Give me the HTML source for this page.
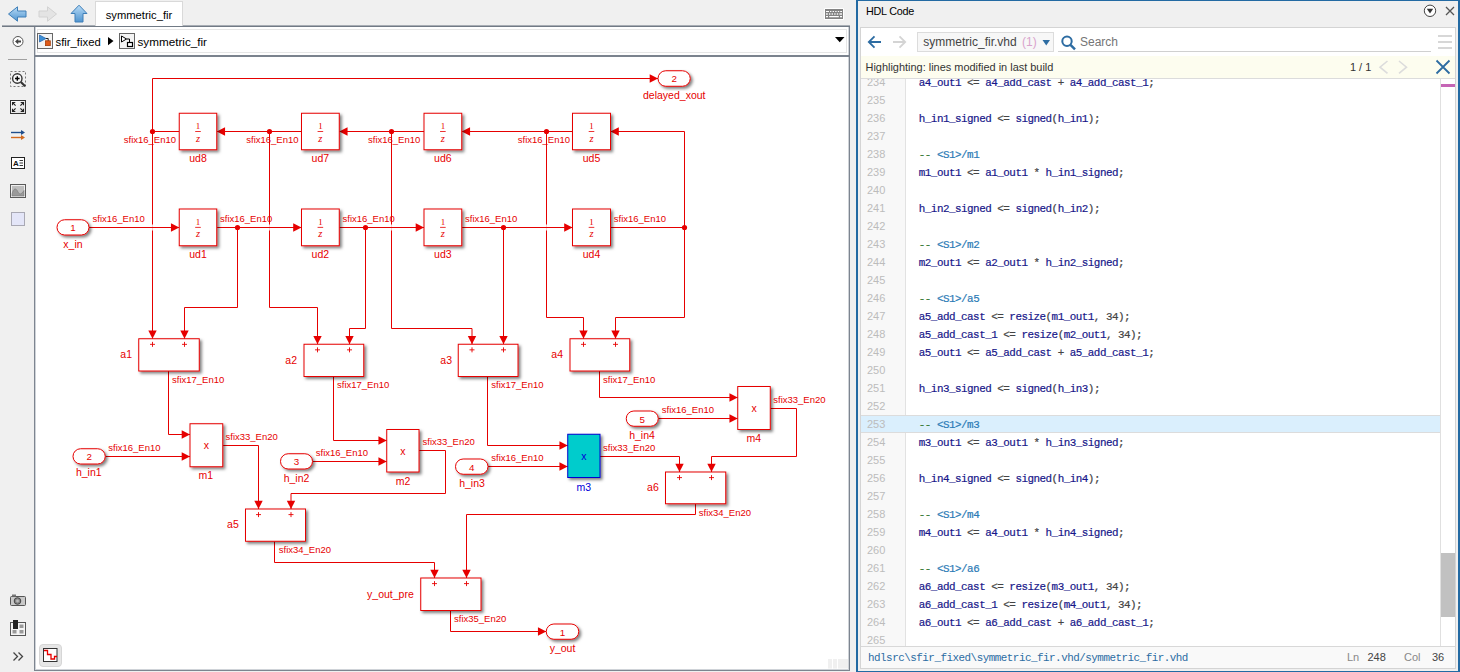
<!DOCTYPE html>
<html><head><meta charset="utf-8"><title>symmetric_fir</title>
<style>
*{box-sizing:border-box;margin:0;padding:0}
html,body{width:1460px;height:672px;overflow:hidden;background:#f0f0f0;font-family:"Liberation Sans",sans-serif}
.abs{position:absolute}
#left{position:absolute;left:0;top:0;width:856px;height:672px;background:#f0f0f0}
#topline{position:absolute;left:2px;top:25px;width:848px;height:2px;background:linear-gradient(#a8adb4 0,#a8adb4 50%,#717a85 50%)}
#tab{position:absolute;left:95px;top:1px;width:88px;height:25px;background:#fff;border:1px solid #d9d9d9;border-bottom:none;font-size:11.2px;color:#000;text-align:center;line-height:27px}
#side{position:absolute;left:0;top:28px;width:34px;height:644px;background:#f0f0f0}
#crumb{position:absolute;left:34px;top:27px;width:816px;height:30px;background:#fff;border-left:1px solid #7d8590;border-right:1px solid #7d8590;border-bottom:2px solid #7b838e;box-shadow:inset 1px 0 0 #cfd3d8,inset -1px 0 0 #cfd3d8}
#crumb .in{position:absolute;left:2px;top:2px;right:2px;bottom:2px;border:1px solid #e6e6e6}
#crumb .t{position:absolute;top:8px;font-size:11.7px;color:#000;white-space:nowrap;line-height:14px}
#canvas{position:absolute;left:34px;top:57px;width:816px;height:614px;background:#fff;border-left:1px solid #7d8590;border-right:1px solid #7d8590;border-bottom:1px solid #7d8590;box-shadow:inset 1px 0 0 #cfd3d8,inset -1px 0 0 #cfd3d8,inset 0 -1px 0 #cfd3d8}
#dia{position:absolute;left:0;top:0}
#dia text{font-family:"Liberation Sans",sans-serif;fill:#e60000}
#dia text.bl{fill:#0000d8}
#dia text.sf{font-family:"Liberation Serif",serif}
#right{position:absolute;left:856px;top:0;width:604px;height:672px;background:#f0f0f0;border:2px solid #236aa3;border-top-width:1px;border-bottom-width:1px}
#rt{position:absolute;left:8px;top:3px;font-size:10.8px;letter-spacing:-0.25px;color:#000;line-height:14px}
#inner{position:absolute;left:2px;top:26px;width:596px;height:642px;background:#fff;border:1px solid #d4d4d4}
#tool{position:absolute;left:0;top:0;width:594px;height:27px;background:#fff}
#dd{position:absolute;left:56px;top:4px;width:137px;height:20px;background:#f7f7f7;border:1px solid #dcdcdc;font-size:12px;color:#444;line-height:19px;padding-left:5.3px;white-space:nowrap}
#dd .c{color:#d9a3cc;margin-left:2px}
#srch{position:absolute;left:219px;top:7px;font-size:12px;color:#757575;line-height:14px}
#sline{position:absolute;left:197px;top:23px;width:373px;height:1px;background:#d0d0d0}
#ybar{position:absolute;left:0;top:28px;width:594px;height:23px;background:#fdfdef;border-bottom:1px solid #dcdcdc;font-size:10.95px;color:#333;line-height:22px}
#code{position:absolute;left:0;top:51px;width:594px;height:567px;overflow:hidden;background:#fff}
#codein{position:absolute;left:0;top:-6px;width:580px}
#gut{position:absolute;left:0;top:0;width:45px;height:567px;background:#f8f8f8;border-right:1px solid #e2e2e2}
.ln{position:relative;height:18px;line-height:18px;white-space:pre;font-family:"Liberation Mono",monospace;font-size:10.9px;letter-spacing:-0.5px;color:#444}
.ln .no{position:absolute;left:6px;top:0px;font-family:"Liberation Sans",sans-serif;font-size:11px;letter-spacing:0;color:#bcbcbc}
.ln .tx{position:absolute;left:57.8px;top:0.5px;-webkit-text-stroke:0.2px}
.hlrow{background:#daeffd;box-shadow:0 -1px 0 #dcdcdc inset,0 1px 0 #dcdcdc inset}
.id{color:#17178a}.cm{color:#3a7d3a}.lk{color:#2b7bb6}
#strack{position:absolute;left:579px;top:0;width:15px;height:567px;background:#fff;border-left:1px solid #e0e0e0}
#thumb{position:absolute;left:0;top:474px;width:14px;height:64px;background:#c1c1c1}
#pink{position:absolute;left:0;top:5px;width:14px;height:3px;background:#c565b5}
#stat{position:absolute;left:0;top:618px;width:594px;height:22px;background:#f9f9f9;border-top:1px solid #d8d8d8;font-size:11px;line-height:20px;color:#888}
#stat .p{position:absolute;left:7px;top:0.6px;font-family:"Liberation Mono",monospace;font-size:10.9px;letter-spacing:-0.5px;color:#2b6ca3;white-space:pre}
#stat span.a{position:absolute;top:0}
</style></head><body>
<div id="left">
  <div id="topline"></div>
  <div id="tab">symmetric_fir</div>
  <!-- nav arrows -->
  <svg class="abs" style="left:0;top:0" width="95" height="26" viewBox="0 0 95 26">
    <defs>
      <linearGradient id="gb" x1="0" y1="0" x2="0" y2="1"><stop offset="0" stop-color="#b9dcf7"/><stop offset="1" stop-color="#4f94cf"/></linearGradient>
    </defs>
    <path d="M8.5,14 L17.5,6.8 L17.5,11 L26,11 L26,17 L17.5,17 L17.5,21.2 Z" fill="url(#gb)" stroke="#3f7fb8" stroke-width="1"/>
    <path d="M56.5,14 L47.5,6.8 L47.5,11 L39,11 L39,17 L47.5,17 L47.5,21.2 Z" fill="#e4e4e4" stroke="#d2d2d2" stroke-width="1"/>
    <path d="M79,5.2 L87,13.5 L83,13.5 L83,22 L75,22 L75,13.5 L71,13.5 Z" fill="url(#gb)" stroke="#3f7fb8" stroke-width="1"/>
  </svg>
  <!-- keyboard icon -->
  <svg class="abs" style="left:823px;top:7px" width="22" height="14" viewBox="823 7 22 14">
    <rect x="824" y="8" width="20" height="12" rx="1.2" fill="#fff"/>
    <rect x="825" y="9" width="18" height="10" fill="#848484"/>
    <path d="M826,11.5H829M830,11.5H831.4M832.6,11.5H834M835.2,11.5H836.6M837.8,11.5H839.2M840.2,11.5H842" stroke="#fff" stroke-width="1"/>
    <path d="M826,14H827.8M829,14H830.4M831.6,14H833M834.2,14H835.6M836.8,14H838.2M839.4,14H842" stroke="#f4f4f4" stroke-width="1.5"/>
    <path d="M826,16.6H828M829.2,16.6H838.8M840,16.6H842" stroke="#fff" stroke-width="1.1"/>
  </svg>
  <div id="side">
    <svg class="abs" style="left:0;top:0" width="34" height="644" viewBox="0 28 34 644">
      <!-- back circle -->
      <circle cx="18" cy="41.5" r="5" fill="#fff" stroke="#555" stroke-width="1"/>
      <path d="M15,41.5 L18.2,38.8 L18.2,40.6 L21,40.6 L21,42.4 L18.2,42.4 L18.2,44.2 Z" fill="#444"/>
      <path d="M8,59.5H27" stroke="#a0a0a0" stroke-width="1"/>
      <!-- zoom -->
      <rect x="10.5" y="71.5" width="15" height="15" fill="none" stroke="#777" stroke-width="1" stroke-dasharray="2,2"/>
      <circle cx="17.3" cy="78.5" r="4.7" fill="#f6f6f6" stroke="#333" stroke-width="1.4"/>
      <path d="M15,78.5H19.6M17.3,76.2V80.8" stroke="#000" stroke-width="1.4"/>
      <path d="M20.8,82L25.2,86.2" stroke="#333" stroke-width="2.1"/>
      <!-- fit -->
      <defs><linearGradient id="gf" x1="0" y1="0" x2="1" y2="1"><stop offset="0" stop-color="#fff"/><stop offset="1" stop-color="#dcdcdc"/></linearGradient></defs>
      <rect x="10.5" y="100.5" width="15" height="13" fill="url(#gf)" stroke="#333" stroke-width="1"/>
      <path d="M12.5,105.3V102.5H15.3M12.5,102.5L15.6,105.6 M23.5,105.3V102.5H20.7M23.5,102.5L20.4,105.6 M12.5,108.7V111.5H15.3M12.5,111.5L15.6,108.4 M23.5,108.7V111.5H20.7M23.5,111.5L20.4,108.4" stroke="#222" stroke-width="1.1" fill="none"/>
      <!-- arrows -->
      <path d="M11,132.5H22" stroke="#1f4e8c" stroke-width="1.4"/><path d="M25,132.5L21,130V135Z" fill="#1f4e8c"/>
      <path d="M11,137.5H22" stroke="#d2691e" stroke-width="1.4"/><path d="M25,137.5L21,135V140Z" fill="#d2691e"/>
      <!-- A= -->
      <rect x="11.5" y="157.5" width="13" height="11" fill="#fff" stroke="#222" stroke-width="1"/>
      <text x="13" y="166.3" font-size="8" font-weight="bold" font-family="Liberation Sans, sans-serif" fill="#111">A</text>
      <path d="M19.5,160.5H23M19.5,163H23M19.5,165.5H23" stroke="#222" stroke-width="0.9"/>
      <!-- image -->
      <rect x="10.5" y="184.5" width="15" height="13" fill="#efefef" stroke="#5a5a5a" stroke-width="1"/>
      <rect x="12" y="186" width="12" height="10" fill="#bdbdbd"/>
      <path d="M12,194 C13.5,188 16,187.5 18,192 C19.3,195 21.5,194.5 24,190.5 V196 H12Z" fill="#9a9a9a" stroke="#777" stroke-width="0.6"/>
      <!-- square -->
      <rect x="11.5" y="212.5" width="13" height="13" fill="#e4e6f8" stroke="#a9a9b4" stroke-width="1"/>
      <!-- camera -->
      <rect x="10.5" y="596.5" width="15" height="9" rx="1" fill="#c8c8c8" stroke="#555" stroke-width="1"/>
      <rect x="12" y="594.5" width="4" height="2" fill="#777"/>
      <circle cx="17.5" cy="601" r="3.3" fill="#888" stroke="#444" stroke-width="1"/>
      <circle cx="17.5" cy="601" r="1.4" fill="#bbb"/>
      <!-- palette -->
      <rect x="10.5" y="622.5" width="15" height="13" fill="#f4f4f4" stroke="#555" stroke-width="1"/>
      <rect x="13" y="620" width="5" height="9" fill="#222"/>
      <rect x="12.5" y="630" width="4" height="3.5" fill="#999"/><rect x="19.5" y="630" width="4" height="3.5" fill="#999"/><rect x="19.5" y="624.5" width="4" height="3.5" fill="#999"/>
      <!-- chevrons -->
      <path d="M13.5,652.5L17.5,656.5L13.5,660.5M18.5,652.5L22.5,656.5L18.5,660.5" stroke="#444" stroke-width="1.3" fill="none"/>
    </svg>
  </div>
  <div id="crumb"><div class="in"></div>
    <svg class="abs" style="left:2px;top:5px" width="120" height="18" viewBox="37 32 120 18">
      <rect x="37.5" y="33.5" width="15" height="15" fill="#f4f4f4" stroke="#666"/>
      <path d="M46,38.5H48.2V41" stroke="#222" stroke-width="1" fill="none"/><path d="M39.5,35 L46,38.5 L39.5,42Z" fill="#3c8fd6" stroke="#1f5fa8" stroke-width="0.7"/>
      <rect x="45.5" y="40.8" width="4.8" height="4.8" fill="#e05a18" stroke="#a63c08" stroke-width="0.8"/>
      <path d="M108,37 L113.5,41 L108,45.2Z" fill="#000"/>
      <rect x="119.5" y="33.5" width="15" height="15" fill="#f4f4f4" stroke="#666"/>
      <path d="M121.5,36 L126.5,39 L121.5,42Z" fill="#fff" stroke="#000" stroke-width="1"/>
      <path d="M126.5,39H129.5V42" stroke="#000" fill="none" stroke-width="1"/>
      <rect x="127.5" y="42.5" width="5" height="4" fill="#fff" stroke="#000" stroke-width="1.2"/>
    </svg>
    <div class="t" style="left:20.5px;font-size:11.3px">sfir_fixed</div>
    <div class="t" style="left:102.5px">symmetric_fir</div>
    <svg class="abs" style="left:799px;top:9px" width="12" height="8" viewBox="0 0 12 8"><path d="M1,1H10.5L5.75,6.2Z" fill="#000"/></svg>
  </div>
  <div id="canvas"></div>
  <svg id="dia" width="856" height="672" viewBox="0 0 856 672">
    <defs>
      <filter id="sh" x="-20%" y="-20%" width="150%" height="150%">
        <feDropShadow dx="2" dy="2" stdDeviation="1.4" flood-color="#000" flood-opacity="0.5"/>
      </filter>
    </defs>
    <path d="M89,227.5 L179.25,227.5" fill="none" stroke="#e60000" stroke-width="1"/><path d="M179.25,227.5 L170.95,223.3 L170.95,231.7Z" fill="#e60000"/>
<path d="M216.75,227.5 L301.5,227.5" fill="none" stroke="#e60000" stroke-width="1"/><path d="M301.5,227.5 L293.2,223.3 L293.2,231.7Z" fill="#e60000"/>
<path d="M237.5,227.5 L237.5,307.5 L184.5,307.5 L184.5,338.75" fill="none" stroke="#e60000" stroke-width="1"/><path d="M184.5,338.75 L180.3,330.45 L188.7,330.45Z" fill="#e60000"/>
<circle cx="237.5" cy="227.5" r="2.6" fill="#e60000"/>
<path d="M339.25,227.5 L424,227.5" fill="none" stroke="#e60000" stroke-width="1"/><path d="M424,227.5 L415.7,223.3 L415.7,231.7Z" fill="#e60000"/>
<path d="M365.5,227.5 L365.5,328.5 L349.5,328.5 L349.5,344.25" fill="none" stroke="#e60000" stroke-width="1"/><path d="M349.5,344.25 L345.3,335.95 L353.7,335.95Z" fill="#e60000"/>
<circle cx="365.5" cy="227.5" r="2.6" fill="#e60000"/>
<path d="M461.75,227.5 L572.5,227.5" fill="none" stroke="#e60000" stroke-width="1"/><path d="M572.5,227.5 L564.2,223.3 L564.2,231.7Z" fill="#e60000"/>
<path d="M503.5,227.5 L503.5,344.25" fill="none" stroke="#e60000" stroke-width="1"/><path d="M503.5,344.25 L499.3,335.95 L507.7,335.95Z" fill="#e60000"/>
<circle cx="503.5" cy="227.5" r="2.6" fill="#e60000"/>
<path d="M610.5,227.5 L684.5,227.5" fill="none" stroke="#e60000" stroke-width="1"/>
<circle cx="684.5" cy="227.5" r="2.6" fill="#e60000"/>
<path d="M684.5,227.5 L684.5,131.5 L610.5,131.5" fill="none" stroke="#e60000" stroke-width="1"/><path d="M610.5,131.5 L618.8,127.3 L618.8,135.7Z" fill="#e60000"/>
<path d="M684.5,227.5 L684.5,317.5 L615.5,317.5 L615.5,338.75" fill="none" stroke="#e60000" stroke-width="1"/><path d="M615.5,338.75 L611.3,330.45 L619.7,330.45Z" fill="#e60000"/>
<path d="M572.5,131.5 L461.75,131.5" fill="none" stroke="#e60000" stroke-width="1"/><path d="M461.75,131.5 L470.05,127.3 L470.05,135.7Z" fill="#e60000"/>
<path d="M546.5,131.5 L546.5,317.5 L583.5,317.5 L583.5,338.75" fill="none" stroke="#e60000" stroke-width="1"/><path d="M583.5,338.75 L579.3,330.45 L587.7,330.45Z" fill="#e60000"/>
<circle cx="546.5" cy="131.5" r="2.6" fill="#e60000"/>
<path d="M424,131.5 L339.25,131.5" fill="none" stroke="#e60000" stroke-width="1"/><path d="M339.25,131.5 L347.55,127.3 L347.55,135.7Z" fill="#e60000"/>
<path d="M391.5,131.5 L391.5,328.5 L472,328.5 L472,344.25" fill="none" stroke="#e60000" stroke-width="1"/><path d="M472,344.25 L467.8,335.95 L476.2,335.95Z" fill="#e60000"/>
<circle cx="391.5" cy="131.5" r="2.6" fill="#e60000"/>
<path d="M301.5,131.5 L216.75,131.5" fill="none" stroke="#e60000" stroke-width="1"/><path d="M216.75,131.5 L225.05,127.3 L225.05,135.7Z" fill="#e60000"/>
<path d="M269.5,131.5 L269.5,307.5 L317.5,307.5 L317.5,344.25" fill="none" stroke="#e60000" stroke-width="1"/><path d="M317.5,344.25 L313.3,335.95 L321.7,335.95Z" fill="#e60000"/>
<circle cx="269.5" cy="131.5" r="2.6" fill="#e60000"/>
<path d="M179.25,131.5 L152.5,131.5" fill="none" stroke="#e60000" stroke-width="1"/>
<circle cx="152.5" cy="131.5" r="2.6" fill="#e60000"/>
<path d="M152.5,131.5 L152.5,78.5 L658,78.5" fill="none" stroke="#e60000" stroke-width="1"/><path d="M658,78.5 L649.7,74.3 L649.7,82.7Z" fill="#e60000"/>
<path d="M152.5,131.5 L152.5,338.75" fill="none" stroke="#e60000" stroke-width="1"/><path d="M152.5,338.75 L148.3,330.45 L156.7,330.45Z" fill="#e60000"/>
<path d="M168.5,371 L168.5,434.5 L190,434.5" fill="none" stroke="#e60000" stroke-width="1"/><path d="M190,434.5 L181.7,430.3 L181.7,438.7Z" fill="#e60000"/>
<path d="M105.25,456.5 L190,456.5" fill="none" stroke="#e60000" stroke-width="1"/><path d="M190,456.5 L181.7,452.3 L181.7,460.7Z" fill="#e60000"/>
<path d="M222.75,445.5 L258.5,445.5 L258.5,509" fill="none" stroke="#e60000" stroke-width="1"/><path d="M258.5,509 L254.3,500.7 L262.7,500.7Z" fill="#e60000"/>
<path d="M333.5,376.5 L333.5,440.5 L386.75,440.5" fill="none" stroke="#e60000" stroke-width="1"/><path d="M386.75,440.5 L378.45,436.3 L378.45,444.7Z" fill="#e60000"/>
<path d="M312.5,461.5 L386.75,461.5" fill="none" stroke="#e60000" stroke-width="1"/><path d="M386.75,461.5 L378.45,457.3 L378.45,465.7Z" fill="#e60000"/>
<path d="M419,450.5 L445.5,450.5 L445.5,493.5 L291,493.5 L291,509" fill="none" stroke="#e60000" stroke-width="1"/><path d="M291,509 L286.8,500.7 L295.2,500.7Z" fill="#e60000"/>
<path d="M487.5,376.5 L487.5,445.5 L567.75,445.5" fill="none" stroke="#e60000" stroke-width="1"/><path d="M567.75,445.5 L559.45,441.3 L559.45,449.7Z" fill="#e60000"/>
<path d="M488,466.5 L567.75,466.5" fill="none" stroke="#e60000" stroke-width="1"/><path d="M567.75,466.5 L559.45,462.3 L559.45,470.7Z" fill="#e60000"/>
<path d="M600,456.5 L679.5,456.5 L679.5,472" fill="none" stroke="#e60000" stroke-width="1"/><path d="M679.5,472 L675.3,463.7 L683.7,463.7Z" fill="#e60000"/>
<path d="M599.5,371 L599.5,397.5 L737.75,397.5" fill="none" stroke="#e60000" stroke-width="1"/><path d="M737.75,397.5 L729.45,393.3 L729.45,401.7Z" fill="#e60000"/>
<path d="M658.25,418.5 L737.75,418.5" fill="none" stroke="#e60000" stroke-width="1"/><path d="M737.75,418.5 L729.45,414.3 L729.45,422.7Z" fill="#e60000"/>
<path d="M770.25,408.5 L796.5,408.5 L796.5,456.5 L711.5,456.5 L711.5,472" fill="none" stroke="#e60000" stroke-width="1"/><path d="M711.5,472 L707.3,463.7 L715.7,463.7Z" fill="#e60000"/>
<path d="M274.5,541.25 L274.5,562.5 L434.5,562.5 L434.5,578" fill="none" stroke="#e60000" stroke-width="1"/><path d="M434.5,578 L430.3,569.7 L438.7,569.7Z" fill="#e60000"/>
<path d="M695.5,503.75 L695.5,514.5 L466.5,514.5 L466.5,578" fill="none" stroke="#e60000" stroke-width="1"/><path d="M466.5,578 L462.3,569.7 L470.7,569.7Z" fill="#e60000"/>
<path d="M450.5,610.5 L450.5,631.5 L546.25,631.5" fill="none" stroke="#e60000" stroke-width="1"/><path d="M546.25,631.5 L537.95,627.3 L537.95,635.7Z" fill="#e60000"/>
<rect x="151.5" y="224.5" width="2" height="6" fill="#fff" fill-opacity="0.8"/>
<path d="M149.5,227.5 L155.5,227.5" stroke="#e60000" stroke-width="1"/>
<rect x="268.5" y="224.5" width="2" height="6" fill="#fff" fill-opacity="0.8"/>
<path d="M266.5,227.5 L272.5,227.5" stroke="#e60000" stroke-width="1"/>
<rect x="390.5" y="224.5" width="2" height="6" fill="#fff" fill-opacity="0.8"/>
<path d="M388.5,227.5 L394.5,227.5" stroke="#e60000" stroke-width="1"/>
<rect x="545.5" y="224.5" width="2" height="6" fill="#fff" fill-opacity="0.8"/>
<path d="M543.5,227.5 L549.5,227.5" stroke="#e60000" stroke-width="1"/>
<rect x="179.25" y="113.25" width="37.5" height="36.5" fill="#fff" stroke="#e60000" stroke-width="1" filter="url(#sh)"/><text x="198.0" y="128.7" font-size="9" text-anchor="middle" class="sf">1</text><path d="M195.2,131.5 L200.8,131.5" stroke="#e60000" stroke-width="0.8"/><text x="198.0" y="141.5" font-size="10.5" text-anchor="middle" font-style="italic" class="sf">z</text>
<rect x="179.25" y="209" width="37.5" height="36.75" fill="#fff" stroke="#e60000" stroke-width="1" filter="url(#sh)"/><text x="198.0" y="224.575" font-size="9" text-anchor="middle" class="sf">1</text><path d="M195.2,227.375 L200.8,227.375" stroke="#e60000" stroke-width="0.8"/><text x="198.0" y="237.375" font-size="10.5" text-anchor="middle" font-style="italic" class="sf">z</text>
<rect x="301.5" y="113.25" width="37.75" height="36.5" fill="#fff" stroke="#e60000" stroke-width="1" filter="url(#sh)"/><text x="320.375" y="128.7" font-size="9" text-anchor="middle" class="sf">1</text><path d="M317.575,131.5 L323.175,131.5" stroke="#e60000" stroke-width="0.8"/><text x="320.375" y="141.5" font-size="10.5" text-anchor="middle" font-style="italic" class="sf">z</text>
<rect x="301.5" y="209" width="37.75" height="36.75" fill="#fff" stroke="#e60000" stroke-width="1" filter="url(#sh)"/><text x="320.375" y="224.575" font-size="9" text-anchor="middle" class="sf">1</text><path d="M317.575,227.375 L323.175,227.375" stroke="#e60000" stroke-width="0.8"/><text x="320.375" y="237.375" font-size="10.5" text-anchor="middle" font-style="italic" class="sf">z</text>
<rect x="424" y="113.25" width="37.75" height="36.5" fill="#fff" stroke="#e60000" stroke-width="1" filter="url(#sh)"/><text x="442.875" y="128.7" font-size="9" text-anchor="middle" class="sf">1</text><path d="M440.075,131.5 L445.675,131.5" stroke="#e60000" stroke-width="0.8"/><text x="442.875" y="141.5" font-size="10.5" text-anchor="middle" font-style="italic" class="sf">z</text>
<rect x="424" y="209" width="37.75" height="36.75" fill="#fff" stroke="#e60000" stroke-width="1" filter="url(#sh)"/><text x="442.875" y="224.575" font-size="9" text-anchor="middle" class="sf">1</text><path d="M440.075,227.375 L445.675,227.375" stroke="#e60000" stroke-width="0.8"/><text x="442.875" y="237.375" font-size="10.5" text-anchor="middle" font-style="italic" class="sf">z</text>
<rect x="572.5" y="113.25" width="38.0" height="36.5" fill="#fff" stroke="#e60000" stroke-width="1" filter="url(#sh)"/><text x="591.5" y="128.7" font-size="9" text-anchor="middle" class="sf">1</text><path d="M588.7,131.5 L594.3,131.5" stroke="#e60000" stroke-width="0.8"/><text x="591.5" y="141.5" font-size="10.5" text-anchor="middle" font-style="italic" class="sf">z</text>
<rect x="572.5" y="209" width="38.0" height="36.75" fill="#fff" stroke="#e60000" stroke-width="1" filter="url(#sh)"/><text x="591.5" y="224.575" font-size="9" text-anchor="middle" class="sf">1</text><path d="M588.7,227.375 L594.3,227.375" stroke="#e60000" stroke-width="0.8"/><text x="591.5" y="237.375" font-size="10.5" text-anchor="middle" font-style="italic" class="sf">z</text>
<rect x="138.75" y="338.75" width="60.5" height="32.25" fill="#fff" stroke="#e60000" stroke-width="1" filter="url(#sh)"/><path d="M150.0,344.35 L155.0,344.35 M152.5,341.85 L152.5,346.85" stroke="#e60000" stroke-width="0.9" fill="none"/><path d="M182.0,344.35 L187.0,344.35 M184.5,341.85 L184.5,346.85" stroke="#e60000" stroke-width="0.9" fill="none"/>
<rect x="304" y="344.25" width="59.75" height="32.25" fill="#fff" stroke="#e60000" stroke-width="1" filter="url(#sh)"/><path d="M315.0,349.85 L320.0,349.85 M317.5,347.35 L317.5,352.35" stroke="#e60000" stroke-width="0.9" fill="none"/><path d="M347.0,349.85 L352.0,349.85 M349.5,347.35 L349.5,352.35" stroke="#e60000" stroke-width="0.9" fill="none"/>
<rect x="458.25" y="344.25" width="59.75" height="32.25" fill="#fff" stroke="#e60000" stroke-width="1" filter="url(#sh)"/><path d="M469.5,349.85 L474.5,349.85 M472,347.35 L472,352.35" stroke="#e60000" stroke-width="0.9" fill="none"/><path d="M501.0,349.85 L506.0,349.85 M503.5,347.35 L503.5,352.35" stroke="#e60000" stroke-width="0.9" fill="none"/>
<rect x="570" y="338.75" width="59.75" height="32.25" fill="#fff" stroke="#e60000" stroke-width="1" filter="url(#sh)"/><path d="M581.0,344.35 L586.0,344.35 M583.5,341.85 L583.5,346.85" stroke="#e60000" stroke-width="0.9" fill="none"/><path d="M613.0,344.35 L618.0,344.35 M615.5,341.85 L615.5,346.85" stroke="#e60000" stroke-width="0.9" fill="none"/>
<rect x="245.5" y="509" width="60.0" height="32.25" fill="#fff" stroke="#e60000" stroke-width="1" filter="url(#sh)"/><path d="M256.0,514.6 L261.0,514.6 M258.5,512.1 L258.5,517.1" stroke="#e60000" stroke-width="0.9" fill="none"/><path d="M288.5,514.6 L293.5,514.6 M291,512.1 L291,517.1" stroke="#e60000" stroke-width="0.9" fill="none"/>
<rect x="665.5" y="472" width="60.25" height="31.75" fill="#fff" stroke="#e60000" stroke-width="1" filter="url(#sh)"/><path d="M677.0,477.6 L682.0,477.6 M679.5,475.1 L679.5,480.1" stroke="#e60000" stroke-width="0.9" fill="none"/><path d="M709.0,477.6 L714.0,477.6 M711.5,475.1 L711.5,480.1" stroke="#e60000" stroke-width="0.9" fill="none"/>
<rect x="420.75" y="578" width="60.25" height="32.5" fill="#fff" stroke="#e60000" stroke-width="1" filter="url(#sh)"/><path d="M432.0,583.6 L437.0,583.6 M434.5,581.1 L434.5,586.1" stroke="#e60000" stroke-width="0.9" fill="none"/><path d="M464.0,583.6 L469.0,583.6 M466.5,581.1 L466.5,586.1" stroke="#e60000" stroke-width="0.9" fill="none"/>
<rect x="190" y="423.75" width="32.75" height="43.0" fill="#fff" stroke="#e60000" stroke-width="1" filter="url(#sh)"/><text x="206.375" y="449.15" font-size="10.5" text-anchor="middle">x</text>
<rect x="386.75" y="429.5" width="32.25" height="42.5" fill="#fff" stroke="#e60000" stroke-width="1" filter="url(#sh)"/><text x="402.875" y="454.65" font-size="10.5" text-anchor="middle">x</text>
<rect x="567.75" y="434.25" width="32.25" height="43.25" fill="#00cccc" stroke="#0000d0" stroke-width="1" filter="url(#sh)"/><text x="583.875" y="459.775" font-size="10.5" text-anchor="middle" class="bl">x</text>
<rect x="737.75" y="386.5" width="32.5" height="43.0" fill="#fff" stroke="#e60000" stroke-width="1" filter="url(#sh)"/><text x="754.0" y="411.9" font-size="10.5" text-anchor="middle">x</text>
<rect x="57" y="219.75" width="32" height="15.25" rx="7.625" ry="7.625" fill="#fff" stroke="#e60000" stroke-width="1" filter="url(#sh)"/><text x="73.0" y="231.275" font-size="9.8" text-anchor="middle">1</text>
<rect x="73" y="448.75" width="32.25" height="15.25" rx="7.625" ry="7.625" fill="#fff" stroke="#e60000" stroke-width="1" filter="url(#sh)"/><text x="89.125" y="460.275" font-size="9.8" text-anchor="middle">2</text>
<rect x="280.5" y="453.75" width="32.0" height="15.25" rx="7.625" ry="7.625" fill="#fff" stroke="#e60000" stroke-width="1" filter="url(#sh)"/><text x="296.5" y="465.275" font-size="9.8" text-anchor="middle">3</text>
<rect x="455.5" y="459" width="32.5" height="15.25" rx="7.625" ry="7.625" fill="#fff" stroke="#e60000" stroke-width="1" filter="url(#sh)"/><text x="471.75" y="470.525" font-size="9.8" text-anchor="middle">4</text>
<rect x="626.25" y="411" width="32.0" height="15.25" rx="7.625" ry="7.625" fill="#fff" stroke="#e60000" stroke-width="1" filter="url(#sh)"/><text x="642.25" y="422.525" font-size="9.8" text-anchor="middle">5</text>
<rect x="658" y="70.75" width="32.25" height="15.5" rx="7.75" ry="7.75" fill="#fff" stroke="#e60000" stroke-width="1" filter="url(#sh)"/><text x="674.125" y="82.4" font-size="9.8" text-anchor="middle">2</text>
<rect x="546.25" y="624" width="32.5" height="15.25" rx="7.625" ry="7.625" fill="#fff" stroke="#e60000" stroke-width="1" filter="url(#sh)"/><text x="562.5" y="635.525" font-size="9.8" text-anchor="middle">1</text>
<text x="92.5" y="222.3" font-size="9.5">sfix16_En10</text>
<text x="220" y="222.3" font-size="9.5">sfix16_En10</text>
<text x="342.5" y="222.3" font-size="9.5">sfix16_En10</text>
<text x="465" y="222.3" font-size="9.5">sfix16_En10</text>
<text x="613.75" y="222.3" font-size="9.5">sfix16_En10</text>
<text x="123.75" y="142.8" font-size="9.5">sfix16_En10</text>
<text x="246.25" y="142.8" font-size="9.5">sfix16_En10</text>
<text x="368" y="142.8" font-size="9.5">sfix16_En10</text>
<text x="517.75" y="142.8" font-size="9.5">sfix16_En10</text>
<text x="172" y="383.3" font-size="9.5">sfix17_En10</text>
<text x="337" y="388.05" font-size="9.5">sfix17_En10</text>
<text x="491.25" y="388.05" font-size="9.5">sfix17_En10</text>
<text x="603" y="383.05" font-size="9.5">sfix17_En10</text>
<text x="108.25" y="451.05" font-size="9.5">sfix16_En10</text>
<text x="315.75" y="456.05" font-size="9.5">sfix16_En10</text>
<text x="491.25" y="461.05" font-size="9.5">sfix16_En10</text>
<text x="661.75" y="413.05" font-size="9.5">sfix16_En10</text>
<text x="225.5" y="440.3" font-size="9.5">sfix33_En20</text>
<text x="422.5" y="445.05" font-size="9.5">sfix33_En20</text>
<text x="603" y="450.8" font-size="9.5">sfix33_En20</text>
<text x="773.25" y="402.8" font-size="9.5">sfix33_En20</text>
<text x="278.75" y="553.05" font-size="9.5">sfix34_En20</text>
<text x="698.75" y="516.3" font-size="9.5">sfix34_En20</text>
<text x="454" y="622.3" font-size="9.5">sfix35_En20</text>
<text x="198.0" y="161.95" font-size="10.5" text-anchor="middle">ud8</text>
<text x="198.0" y="257.7" font-size="10.5" text-anchor="middle">ud1</text>
<text x="320.375" y="161.95" font-size="10.5" text-anchor="middle">ud7</text>
<text x="320.375" y="257.7" font-size="10.5" text-anchor="middle">ud2</text>
<text x="442.875" y="161.95" font-size="10.5" text-anchor="middle">ud6</text>
<text x="442.875" y="257.7" font-size="10.5" text-anchor="middle">ud3</text>
<text x="591.5" y="161.95" font-size="10.5" text-anchor="middle">ud5</text>
<text x="591.5" y="257.7" font-size="10.5" text-anchor="middle">ud4</text>
<text x="73" y="248.2" font-size="10.5" text-anchor="middle">x_in</text>
<text x="674.25" y="98.95" font-size="10.5" text-anchor="middle">delayed_xout</text>
<text x="132" y="358.2" font-size="10.5" text-anchor="end">a1</text>
<text x="297" y="363.7" font-size="10.5" text-anchor="end">a2</text>
<text x="452" y="363.7" font-size="10.5" text-anchor="end">a3</text>
<text x="563" y="358.45" font-size="10.5" text-anchor="end">a4</text>
<text x="238.75" y="528.2" font-size="10.5" text-anchor="end">a5</text>
<text x="658.75" y="490.95" font-size="10.5" text-anchor="end">a6</text>
<text x="413.75" y="597.7" font-size="10.5" text-anchor="end">y_out_pre</text>
<text x="88.75" y="475.7" font-size="10.5" text-anchor="middle">h_in1</text>
<text x="296.5" y="481.7" font-size="10.5" text-anchor="middle">h_in2</text>
<text x="472" y="486.7" font-size="10.5" text-anchor="middle">h_in3</text>
<text x="642" y="438.95" font-size="10.5" text-anchor="middle">h_in4</text>
<text x="205.75" y="479.45" font-size="10.5" text-anchor="middle">m1</text>
<text x="403" y="484.7" font-size="10.5" text-anchor="middle">m2</text>
<text x="583.75" y="490.59999999999997" font-size="10.5" text-anchor="middle" class="bl">m3</text>
<text x="753.75" y="441.95" font-size="10.5" text-anchor="middle">m4</text>
<text x="562.5" y="651.95" font-size="10.5" text-anchor="middle">y_out</text>
    <!-- bottom-left button -->
    <rect x="39.5" y="644.5" width="22" height="22" rx="3.5" fill="#e6e6e6" stroke="#d6d6d6"/>
    <rect x="43.5" y="648.5" width="13.5" height="13" fill="#fff" stroke="#333" stroke-width="1"/>
    <path d="M44,650.5H47.5V654.5H51V659H54.5V656.5H57" stroke="#e60000" stroke-width="1.3" fill="none"/>
    <!-- bottom-right ghost -->
    <rect x="828" y="659" width="4" height="9.5" fill="#f0f0f0"/><rect x="833" y="659" width="4" height="9.5" fill="#f0f0f0"/><rect x="838" y="659" width="10" height="9.5" fill="#f0f0f0"/>
  </svg>
</div>
<div id="right">
  <div id="rt">HDL Code</div>
  <svg class="abs" style="left:564px;top:3px" width="36" height="16" viewBox="1422 4 36 16">
    <circle cx="1430" cy="10.8" r="5.7" fill="#fff" stroke="#444" stroke-width="1"/>
    <path d="M1426.8,8.8H1433.2L1430,13.4Z" fill="#333"/>
    <path d="M1446,7L1454,15M1454,7L1446,15" stroke="#555" stroke-width="1.3"/>
  </svg>
  <div id="inner">
    <div id="tool">
      <div id="dd">symmetric_fir.vhd <span class="c">(1)</span></div>
      <div id="srch">Search</div>
      <div id="sline"></div>
      <svg class="abs" style="left:0;top:0" width="594" height="27" viewBox="861 28 594 27">
        <path d="M869,42H881M874.5,36.3L868.8,42L874.5,47.7" stroke="#2d6ca2" stroke-width="1.8" fill="none"/>
        <path d="M893,42H905M899.5,36.3L905.2,42L899.5,47.7" stroke="#d4d4d4" stroke-width="1.8" fill="none"/>
        <circle cx="1067" cy="41.2" r="4.7" fill="none" stroke="#2d6ca2" stroke-width="2"/>
        <path d="M1070.5,44.8L1075,49.3" stroke="#2d6ca2" stroke-width="2.4"/>
        <path d="M1042.5,40H1050L1046.25,45.5Z" fill="#2d6ca2"/>
        <path d="M1438,36H1452M1438,42H1452M1438,48H1452" stroke="#cacaca" stroke-width="1.7"/>
      </svg>
    </div>
    <div id="ybar"><span style="position:absolute;left:4.5px">Highlighting: lines modified in last build</span>
      <span style="position:absolute;left:489px;color:#333">1 / 1</span>
      <svg class="abs" style="left:514px;top:2px" width="76" height="18" viewBox="1375 58 76 18">
        <path d="M1387.5,61L1380,67.2L1387.5,73.4" stroke="#dcdcdc" stroke-width="1.6" fill="none"/>
        <path d="M1399,61L1406.5,67.2L1399,73.4" stroke="#dcdcdc" stroke-width="1.6" fill="none"/>
        <path d="M1436.5,60.5L1449.5,73.5M1449.5,60.5L1436.5,73.5" stroke="#2d6ca2" stroke-width="1.8" fill="none"/>
      </svg>
    </div>
    <div id="code">
      <div id="gut"></div>
      <div id="codein">
<div class="ln"><span class="no">234</span><span class="tx"><span class="id">a4_out1</span> &lt;= <span class="id">a4_add_cast</span> + <span class="id">a4_add_cast_1</span>;</span></div>
<div class="ln"><span class="no">235</span><span class="tx"></span></div>
<div class="ln"><span class="no">236</span><span class="tx"><span class="id">h_in1_signed</span> &lt;= <span class="id">signed</span>(<span class="id">h_in1</span>);</span></div>
<div class="ln"><span class="no">237</span><span class="tx"></span></div>
<div class="ln"><span class="no">238</span><span class="tx"><span class="cm">--</span> <span class="lk">&lt;S1&gt;/m1</span></span></div>
<div class="ln"><span class="no">239</span><span class="tx"><span class="id">m1_out1</span> &lt;= <span class="id">a1_out1</span> * <span class="id">h_in1_signed</span>;</span></div>
<div class="ln"><span class="no">240</span><span class="tx"></span></div>
<div class="ln"><span class="no">241</span><span class="tx"><span class="id">h_in2_signed</span> &lt;= <span class="id">signed</span>(<span class="id">h_in2</span>);</span></div>
<div class="ln"><span class="no">242</span><span class="tx"></span></div>
<div class="ln"><span class="no">243</span><span class="tx"><span class="cm">--</span> <span class="lk">&lt;S1&gt;/m2</span></span></div>
<div class="ln"><span class="no">244</span><span class="tx"><span class="id">m2_out1</span> &lt;= <span class="id">a2_out1</span> * <span class="id">h_in2_signed</span>;</span></div>
<div class="ln"><span class="no">245</span><span class="tx"></span></div>
<div class="ln"><span class="no">246</span><span class="tx"><span class="cm">--</span> <span class="lk">&lt;S1&gt;/a5</span></span></div>
<div class="ln"><span class="no">247</span><span class="tx"><span class="id">a5_add_cast</span> &lt;= <span class="id">resize</span>(<span class="id">m1_out1</span>, 34);</span></div>
<div class="ln"><span class="no">248</span><span class="tx"><span class="id">a5_add_cast_1</span> &lt;= <span class="id">resize</span>(<span class="id">m2_out1</span>, 34);</span></div>
<div class="ln"><span class="no">249</span><span class="tx"><span class="id">a5_out1</span> &lt;= <span class="id">a5_add_cast</span> + <span class="id">a5_add_cast_1</span>;</span></div>
<div class="ln"><span class="no">250</span><span class="tx"></span></div>
<div class="ln"><span class="no">251</span><span class="tx"><span class="id">h_in3_signed</span> &lt;= <span class="id">signed</span>(<span class="id">h_in3</span>);</span></div>
<div class="ln"><span class="no">252</span><span class="tx"></span></div>
<div class="ln hlrow"><span class="no">253</span><span class="tx"><span class="cm">--</span> <span class="lk">&lt;S1&gt;/m3</span></span></div>
<div class="ln"><span class="no">254</span><span class="tx"><span class="id">m3_out1</span> &lt;= <span class="id">a3_out1</span> * <span class="id">h_in3_signed</span>;</span></div>
<div class="ln"><span class="no">255</span><span class="tx"></span></div>
<div class="ln"><span class="no">256</span><span class="tx"><span class="id">h_in4_signed</span> &lt;= <span class="id">signed</span>(<span class="id">h_in4</span>);</span></div>
<div class="ln"><span class="no">257</span><span class="tx"></span></div>
<div class="ln"><span class="no">258</span><span class="tx"><span class="cm">--</span> <span class="lk">&lt;S1&gt;/m4</span></span></div>
<div class="ln"><span class="no">259</span><span class="tx"><span class="id">m4_out1</span> &lt;= <span class="id">a4_out1</span> * <span class="id">h_in4_signed</span>;</span></div>
<div class="ln"><span class="no">260</span><span class="tx"></span></div>
<div class="ln"><span class="no">261</span><span class="tx"><span class="cm">--</span> <span class="lk">&lt;S1&gt;/a6</span></span></div>
<div class="ln"><span class="no">262</span><span class="tx"><span class="id">a6_add_cast</span> &lt;= <span class="id">resize</span>(<span class="id">m3_out1</span>, 34);</span></div>
<div class="ln"><span class="no">263</span><span class="tx"><span class="id">a6_add_cast_1</span> &lt;= <span class="id">resize</span>(<span class="id">m4_out1</span>, 34);</span></div>
<div class="ln"><span class="no">264</span><span class="tx"><span class="id">a6_out1</span> &lt;= <span class="id">a6_add_cast</span> + <span class="id">a6_add_cast_1</span>;</span></div>
<div class="ln"><span class="no">265</span><span class="tx"></span></div>
      </div>
      <div id="strack"><div id="pink"></div><div id="thumb"></div></div>
    </div>
    <div id="stat"><span class="p">hdlsrc\sfir_fixed\symmetric_fir.vhd/symmetric_fir.vhd</span>
      <span class="a" style="left:486px">Ln</span><span class="a" style="left:506.5px;color:#444">248</span>
      <span class="a" style="left:543px">Col</span><span class="a" style="left:571px;color:#444">36</span>
    </div>
  </div>
</div>
</body></html>
